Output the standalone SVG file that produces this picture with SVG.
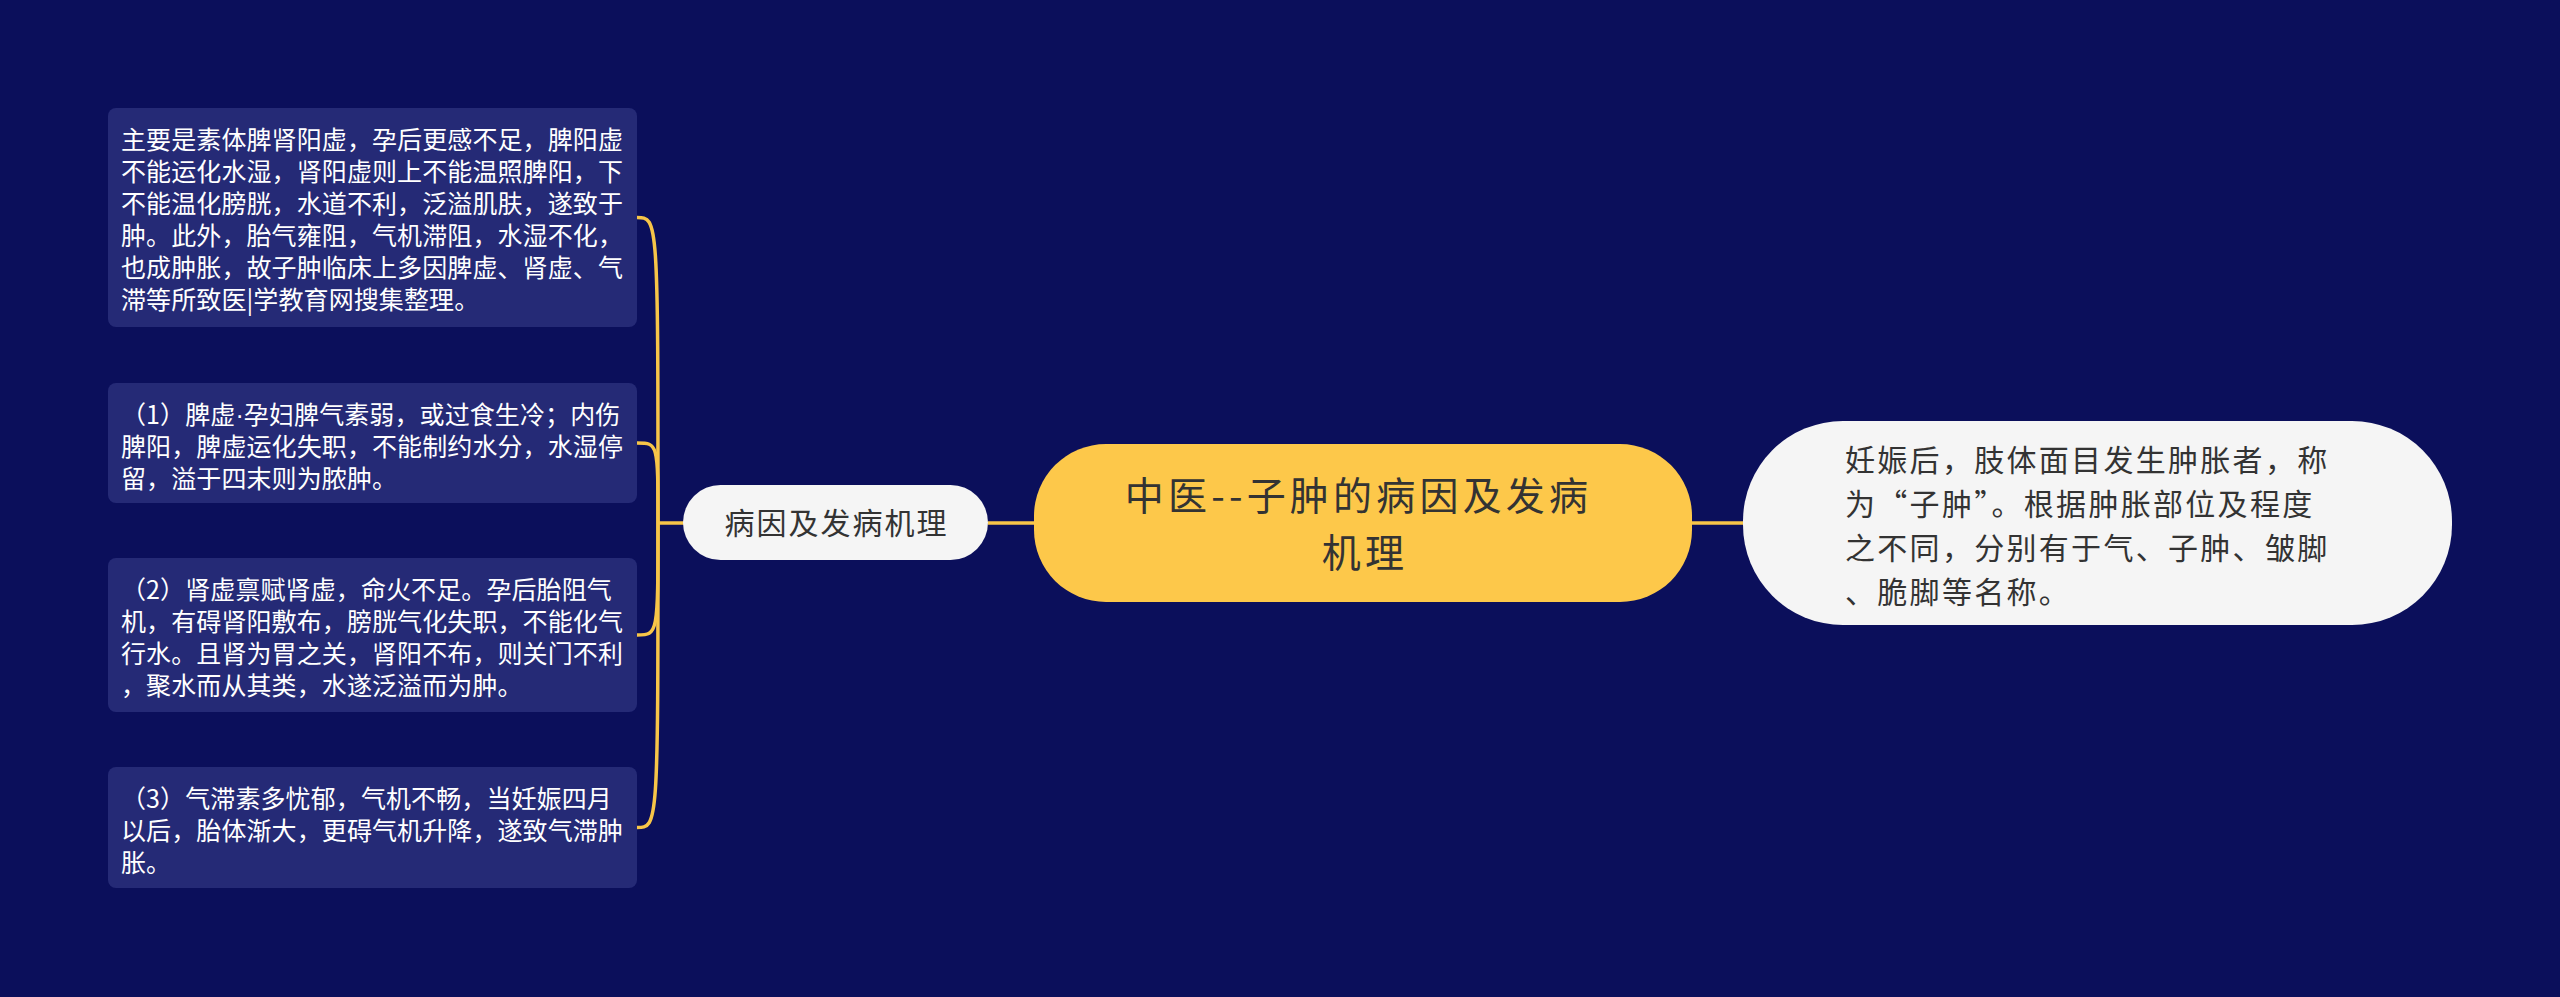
<svg xmlns="http://www.w3.org/2000/svg" width="2560" height="997" viewBox="0 0 2560 997">
<style>
.bg{fill:#0b0f5b}
.box{fill:#252a76}
.bt{font-family:"Noto Sans CJK SC","Noto Sans",sans-serif;font-size:25px;letter-spacing:0.1px;fill:#ffffff}
.pill{fill:#f5f5f5}
.dark{font-family:"Noto Sans CJK SC","Noto Sans",sans-serif;fill:#333333}
.conn{fill:none;stroke:#f7c548;stroke-width:3.5}
</style>
<rect class="bg" x="0" y="0" width="2560" height="997"/>
<g id="connectors">
<path class="conn" d="M988 523 L1034 523"/>
<path class="conn" d="M1692 523 L1744 523"/>
<path class="conn" d="M684 523 L658 523"/>
<path class="conn" d="M658 523 C658 217.5 658 217.5 637 217.5"/>
<path class="conn" d="M658 523 C658 443 658 443 637 443"/>
<path class="conn" d="M658 523 C658 635 658 635 637 635"/>
<path class="conn" d="M658 523 C658 827.5 658 827.5 637 827.5"/>
</g>
<g id="center">
<rect x="1034" y="444" width="658" height="158" rx="72" ry="72" fill="#fdc84a"/>
<text class="dark" font-size="39" letter-spacing="4.2" text-anchor="middle" fill="#2e2a1a">
<tspan x="1365" y="510">中医--子肿的病因及发病</tspan>
<tspan x="1365" y="567">机理</tspan>
</text>
</g>
<g id="right">
<rect x="1743" y="421" width="709" height="204" rx="100" ry="100" class="pill"/>
<text class="dark" font-size="30" letter-spacing="2.3">
<tspan x="1845" y="471">妊娠后，肢体面目发生肿胀者，称</tspan>
<tspan x="1845" y="515">为“子肿”。根据肿胀部位及程度</tspan>
<tspan x="1845" y="559">之不同，分别有于气、子肿、皱脚</tspan>
<tspan x="1845" y="603">、脆脚等名称。</tspan>
</text>
</g>
<g id="sub">
<rect x="683" y="485" width="305" height="75" rx="37.5" ry="37.5" class="pill"/>
<text class="dark" font-size="30" letter-spacing="2" text-anchor="middle" x="836.5" y="534">病因及发病机理</text>
</g>
<g id="box1">
<rect class="box" x="108" y="108" width="529" height="219" rx="8"/>
<text class="bt">
<tspan x="121" y="149">主要是素体脾肾阳虚，孕后更感不足，脾阳虚</tspan>
<tspan x="121" y="181">不能运化水湿，肾阳虚则上不能温照脾阳，下</tspan>
<tspan x="121" y="213">不能温化膀胱，水道不利，泛溢肌肤，遂致于</tspan>
<tspan x="121" y="245">肿。此外，胎气雍阻，气机滞阻，水湿不化，</tspan>
<tspan x="121" y="277">也成肿胀，故子肿临床上多因脾虚、肾虚、气</tspan>
<tspan x="121" y="309">滞等所致医|学教育网搜集整理。</tspan>
</text>
</g>
<g id="box2">
<rect class="box" x="108" y="383" width="529" height="120" rx="8"/>
<text class="bt">
<tspan x="121" y="424">（1）脾虚<tspan font-family="Liberation Sans, sans-serif">·</tspan>孕妇脾气素弱，或过食生冷；内伤</tspan>
<tspan x="121" y="456">脾阳，脾虚运化失职，不能制约水分，水湿停</tspan>
<tspan x="121" y="488">留，溢于四末则为脓肿。</tspan>
</text>
</g>
<g id="box3">
<rect class="box" x="108" y="558" width="529" height="154" rx="8"/>
<text class="bt">
<tspan x="121" y="599">（2）肾虚禀赋肾虚，命火不足。孕后胎阻气</tspan>
<tspan x="121" y="631">机，有碍肾阳敷布，膀胱气化失职，不能化气</tspan>
<tspan x="121" y="663">行水。且肾为胃之关，肾阳不布，则关门不利</tspan>
<tspan x="121" y="695">，聚水而从其类，水遂泛溢而为肿。</tspan>
</text>
</g>
<g id="box4">
<rect class="box" x="108" y="767" width="529" height="121" rx="8"/>
<text class="bt">
<tspan x="121" y="808">（3）气滞素多忧郁，气机不畅，当妊娠四月</tspan>
<tspan x="121" y="840">以后，胎体渐大，更碍气机升降，遂致气滞肿</tspan>
<tspan x="121" y="872">胀。</tspan>
</text>
</g>
</svg>
